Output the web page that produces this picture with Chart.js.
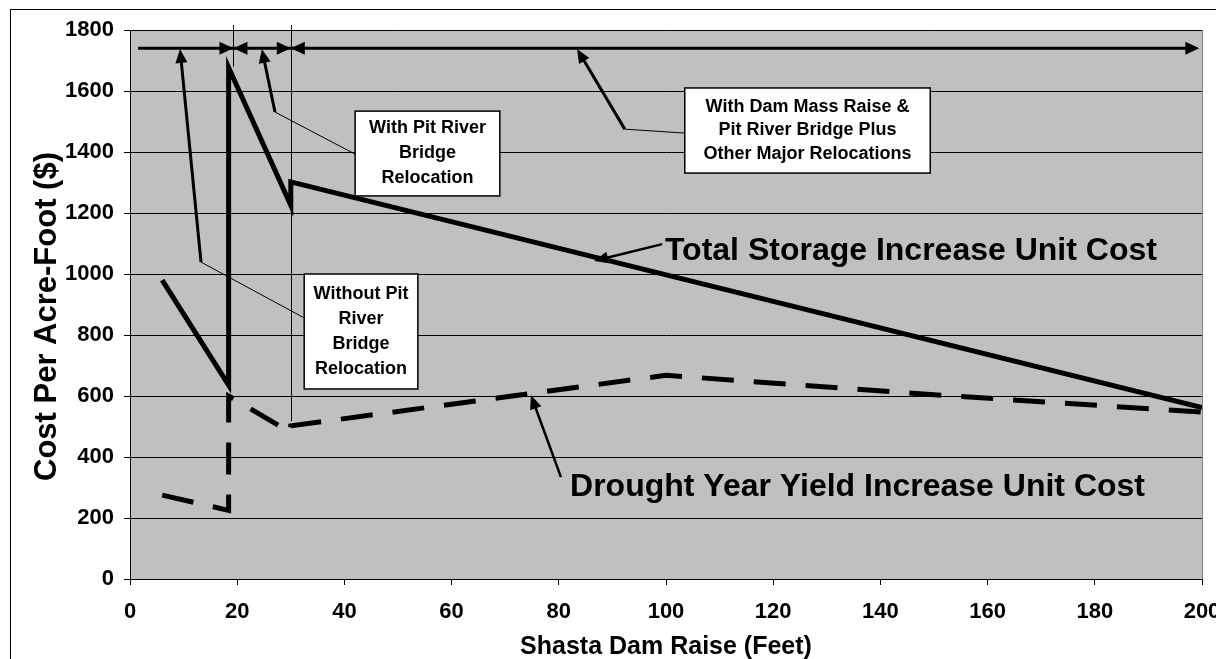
<!DOCTYPE html>
<html>
<head>
<meta charset="utf-8">
<script src="https://cdn.jsdelivr.net/npm/chart.js@4.4.1/dist/chart.umd.min.js"></script>
<style>
  body { margin: 0; background: #fff; }
  #wrap { width: 1216px; height: 659px; }
</style>
</head>
<body>
<div id="wrap"><canvas id="chart" width="1216" height="659"></canvas></div>
<script>
// series (x = dam raise in feet, y = $ per acre-foot)
const totalX = [6, 18.4, 18.4, 30, 30, 200];
const totalY = [980, 636, 1677, 1225, 1302, 562];
const droughtX = [6, 18.4, 18.4, 30, 30, 100, 150, 200];
const droughtY = [275, 225, 600, 480, 502, 668, 604, 547];

const xTickValues = [0, 20, 40, 60, 80, 100, 120, 140, 160, 180, 200];
const yTickValues = [0, 200, 400, 600, 800, 1000, 1200, 1400, 1600, 1800];

const xTitle = 'Shasta Dam Raise (Feet)';
const yTitle = 'Cost Per Acre-Foot ($)';

// annotation geometry in data units
const spanY = 1740;
const spanStart = 1.5;
const spanEnd = 199.5;
const spanStops = [19.3, 30];
const markers = [
    { x: 19.3, from: 1680, to: 1816 },
    { x: 30, from: 518, to: 1816 }
];
const callouts = [
    { lines: ['With Pit River', 'Bridge', 'Relocation'], box: [42.0, 1534, 69.0, 1256],
      leader: [[42.0, 1393], [27.05, 1531]], tip: [24.6, 1738], step: 25 },
    { lines: ['Without Pit', 'River', 'Bridge', 'Relocation'], box: [32.5, 1000, 53.7, 623],
      leader: [[32.5, 856], [13.25, 1039]], tip: [9.33, 1738], step: 25 },
    { lines: ['With Dam Mass Raise &', 'Pit River Bridge Plus', 'Other Major Relocations'], box: [103.5, 1610, 149.3, 1331],
      leader: [[103.5, 1462], [92.3, 1475]], tip: [83.4, 1738], step: 23.5 }
];
const seriesLabels = [
    { text: 'Total Storage Increase Unit Cost', at: [99.8, 1046], tail: [99.3, 1098], tip: [86.6, 1043] },
    { text: 'Drought Year Yield Increase Unit Cost', at: [82.1, 272], tail: [80.4, 334], tip: [74.8, 603] }
];

const FONT = "'Liberation Sans', Arial, sans-serif";

function toPx(chart, x, y) {
    return [chart.scales.x.getPixelForValue(x), chart.scales.y.getPixelForValue(y)];
}

function head(ctx, fx, fy, tx, ty, len, half) {
    const a = Math.atan2(ty - fy, tx - fx);
    const bx = tx - len * Math.cos(a), by = ty - len * Math.sin(a);
    ctx.beginPath();
    ctx.moveTo(tx, ty);
    ctx.lineTo(bx + half * Math.sin(a), by - half * Math.cos(a));
    ctx.lineTo(bx - half * Math.sin(a), by + half * Math.cos(a));
    ctx.closePath();
    ctx.fill();
}

function arrow(ctx, fx, fy, tx, ty, width) {
    const a = Math.atan2(ty - fy, tx - fx);
    ctx.lineWidth = width;
    ctx.beginPath();
    ctx.moveTo(fx, fy);
    ctx.lineTo(tx - 10 * Math.cos(a), ty - 10 * Math.sin(a));
    ctx.stroke();
    head(ctx, fx, fy, tx, ty, 14, 6);
}

const backdrop = {
    id: 'backdrop',
    beforeDraw(chart) {
        const ctx = chart.ctx, a = chart.chartArea;
        ctx.save();
        ctx.fillStyle = '#fff';
        ctx.fillRect(0, 0, chart.width, chart.height);
        ctx.strokeStyle = '#000';
        ctx.lineWidth = 1;
        ctx.strokeRect(10.5, 9.5, 1400, 1000);
        ctx.fillStyle = '#c0c0c0';
        ctx.fillRect(a.left, a.top, a.right - a.left, a.bottom - a.top);
        ctx.strokeStyle = '#808080';
        ctx.strokeRect(a.left + 0.5, a.top + 0.5, a.right - a.left, a.bottom - a.top);
        ctx.restore();
    }
};

const notes = {
    id: 'notes',
    afterDatasetsDraw(chart) {
        const ctx = chart.ctx;
        ctx.save();
        ctx.strokeStyle = '#000';
        ctx.fillStyle = '#000';

        // thin marker lines at the relocation breaks
        ctx.lineWidth = 1;
        markers.forEach(m => {
            const [x, y0] = toPx(chart, m.x, m.from);
            const [, y1] = toPx(chart, m.x, m.to);
            ctx.beginPath();
            ctx.moveTo(Math.round(x) + 0.5, y0);
            ctx.lineTo(Math.round(x) + 0.5, y1);
            ctx.stroke();
        });

        // span line across the top with arrow heads
        const [sx, sy] = toPx(chart, spanStart, spanY);
        const [ex] = toPx(chart, spanEnd, spanY);
        ctx.lineWidth = 3;
        ctx.beginPath();
        ctx.moveTo(sx, sy);
        ctx.lineTo(ex - 8, sy);
        ctx.stroke();
        spanStops.forEach(v => {
            const [px] = toPx(chart, v, spanY);
            head(ctx, px - 20, sy, px, sy, 14, 6.5);
            head(ctx, px + 20, sy, px, sy, 14, 6.5);
        });
        head(ctx, ex - 20, sy, ex, sy, 14, 6.5);

        // callout boxes
        callouts.forEach(c => {
            const [l0, l1] = c.leader.map(p => toPx(chart, p[0], p[1]));
            const [tx, ty] = toPx(chart, c.tip[0], c.tip[1]);
            ctx.lineWidth = 1;
            ctx.beginPath();
            ctx.moveTo(l0[0], l0[1]);
            ctx.lineTo(l1[0], l1[1]);
            ctx.stroke();
            arrow(ctx, l1[0], l1[1], tx, ty, 3);

            const [bx0, by0] = toPx(chart, c.box[0], c.box[1]);
            const [bx1, by1] = toPx(chart, c.box[2], c.box[3]);
            ctx.fillStyle = '#fff';
            ctx.fillRect(bx0, by0, bx1 - bx0, by1 - by0);
            ctx.lineWidth = 1.5;
            ctx.strokeRect(bx0, by0, bx1 - bx0, by1 - by0);
            ctx.fillStyle = '#000';
            ctx.font = 'bold 18px ' + FONT;
            ctx.textAlign = 'center';
            ctx.textBaseline = 'middle';
            const cx = (bx0 + bx1) / 2, cy = (by0 + by1) / 2;
            const n = c.lines.length;
            c.lines.forEach((t, i) => {
                ctx.fillText(t, cx, cy + (i - (n - 1) / 2) * c.step);
            });
        });

        // big series labels with pointers
        seriesLabels.forEach(s => {
            const [fx, fy] = toPx(chart, s.tail[0], s.tail[1]);
            const [tx, ty] = toPx(chart, s.tip[0], s.tip[1]);
            arrow(ctx, fx, fy, tx, ty, 2.5);
            const [lx, ly] = toPx(chart, s.at[0], s.at[1]);
            ctx.font = 'bold 32px ' + FONT;
            ctx.textAlign = 'left';
            ctx.textBaseline = 'alphabetic';
            ctx.fillText(s.text, lx, ly);
        });
        ctx.restore();
    },
    afterDraw(chart) {
        const ctx = chart.ctx, a = chart.chartArea;
        ctx.save();
        ctx.fillStyle = '#000';
        ctx.textAlign = 'center';
        ctx.textBaseline = 'alphabetic';
        ctx.font = 'bold 25px ' + FONT;
        ctx.fillText(xTitle, (a.left + a.right) / 2, 654);
        ctx.font = 'bold 31px ' + FONT;
        ctx.translate(56, (a.top + a.bottom) / 2 + 12);
        ctx.rotate(-Math.PI / 2);
        ctx.fillText(yTitle, 0, 0);
        ctx.restore();
    }
};

const tickFont = { family: FONT, size: 22, weight: 'bold' };

new Chart(document.getElementById('chart'), {
    type: 'line',
    data: {
        datasets: [
            {
                label: 'Total Storage Increase Unit Cost',
                data: totalX.map((x, i) => ({ x, y: totalY[i] })),
                borderColor: '#000',
                borderWidth: 5,
                borderJoinStyle: 'miter',
                pointRadius: 0,
                tension: 0
            },
            {
                label: 'Drought Year Yield Increase Unit Cost',
                data: droughtX.map((x, i) => ({ x, y: droughtY[i] })),
                borderColor: '#000',
                borderWidth: 5,
                borderDash: [32, 20],
                borderCapStyle: 'butt',
                borderJoinStyle: 'miter',
                pointRadius: 0,
                tension: 0
            }
        ]
    },
    options: {
        responsive: false,
        animation: false,
        layout: { padding: { top: 30, left: 0, right: 14, bottom: 0 } },
        plugins: { legend: { display: false }, tooltip: { enabled: false } },
        scales: {
            x: {
                type: 'linear',
                min: 0, max: 200,
                afterBuildTicks: s => { s.ticks = xTickValues.map(v => ({ value: v })); },
                afterFit: s => { s.height = 80; s.paddingLeft = 0; s.paddingRight = 0; },
                grid: { drawOnChartArea: false, drawTicks: true, tickLength: 6, color: '#000' },
                border: { color: '#000', width: 1 },
                ticks: { font: tickFont, color: '#000', padding: 14, maxRotation: 0, autoSkip: false,
                         callback: v => String(v) }
            },
            y: {
                min: 0, max: 1800,
                afterBuildTicks: s => { s.ticks = yTickValues.map(v => ({ value: v })); },
                afterFit: s => { s.width = 130; s.paddingTop = 0; s.paddingBottom = 0; },
                grid: { color: '#000', lineWidth: 1, drawTicks: true, tickLength: 6 },
                border: { color: '#000', width: 1 },
                ticks: { font: tickFont, color: '#000', padding: 10, autoSkip: false,
                         callback: v => String(v) }
            }
        }
    },
    plugins: [backdrop, notes]
});
</script>
</body>
</html>
